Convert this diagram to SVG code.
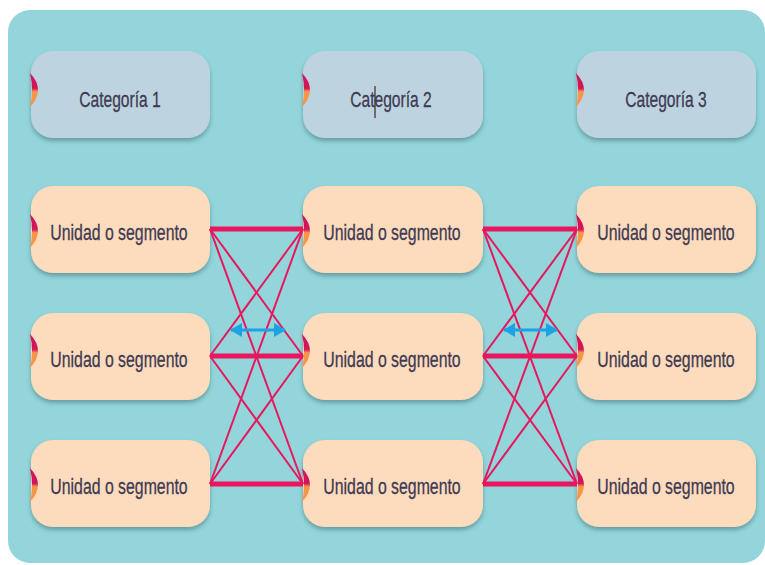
<svg xmlns="http://www.w3.org/2000/svg" width="765" height="565" viewBox="0 0 765 565">
<defs>
<filter id="sh" x="-10%" y="-10%" width="120%" height="130%">
<feDropShadow dx="0" dy="3" stdDeviation="2" flood-color="#2a5a60" flood-opacity="0.45"/>
</filter>
<linearGradient id="cres" x1="0" y1="0" x2="0" y2="1">
<stop offset="0" stop-color="#d3145a"/>
<stop offset="0.45" stop-color="#d3145a"/>
<stop offset="0.55" stop-color="#f7964a"/>
<stop offset="1" stop-color="#f7964a"/>
</linearGradient>
<marker id="ah" viewBox="0 0 12 14" refX="11" refY="7" markerWidth="12" markerHeight="14" orient="auto-start-reverse" markerUnits="userSpaceOnUse">
<path d="M0,0 L12,7 L0,14 z" fill="#1ba3e3"/>
</marker>
<style>
.cat{fill:#bdd4e0;filter:url(#sh)}
.uni{fill:#fddcbd;filter:url(#sh)}
.t{font-family:"Liberation Sans",Arial,sans-serif;font-size:22px;fill:#3f3a52;text-anchor:middle;stroke:#3f3a52;stroke-width:0.3}
.thick{stroke:#e8175d;stroke-width:5;fill:none}
.thin{stroke:#e8175d;stroke-width:2;fill:none}
.blue{stroke:#1ba3e3;stroke-width:3;fill:none;marker-start:url(#ah);marker-end:url(#ah)}
.cr{fill:url(#cres)}
</style>
</defs>
<rect x="8" y="10" width="757" height="553" rx="22" fill="#93d5da"/>

<g id="cat1"><rect class="cat" x="31" y="51" width="179" height="87" rx="22"/><path class="cr" d="M30,73 Q46,90 30,107 Q34,90 30,73 z"/><text class="t" transform="translate(120,107) scale(0.71,1)">Categoría 1</text></g>
<g id="cat2"><rect class="cat" x="303" y="51" width="180" height="87" rx="22"/><path class="cr" d="M302,73 Q318,90 302,107 Q306,90 302,73 z"/><text class="t" transform="translate(391,107) scale(0.71,1)">Categoría 2</text><line x1="375" y1="86" x2="375" y2="118" stroke="#3a2424" stroke-width="1.2"/></g>
<g id="cat3"><rect class="cat" x="577" y="51" width="179" height="87" rx="22"/><path class="cr" d="M576,73 Q592,90 576,107 Q580,90 576,73 z"/><text class="t" transform="translate(666,107) scale(0.71,1)">Categoría 3</text></g>

<g id="u11"><rect class="uni" x="31" y="186" width="179" height="87" rx="22"/><path class="cr" d="M30,214 Q46,231 30,248 Q34,231 30,214 z"/><text class="t" transform="translate(119,240) scale(0.72,1)">Unidad o segmento</text></g>
<g id="u12"><rect class="uni" x="31" y="313" width="179" height="87" rx="22"/><path class="cr" d="M30,334 Q46,351 30,368 Q34,351 30,334 z"/><text class="t" transform="translate(119,367) scale(0.72,1)">Unidad o segmento</text></g>
<g id="u13"><rect class="uni" x="31" y="440" width="179" height="87" rx="22"/><path class="cr" d="M30,468 Q46,485 30,502 Q34,485 30,468 z"/><text class="t" transform="translate(119,494) scale(0.72,1)">Unidad o segmento</text></g>

<g id="u21"><rect class="uni" x="303" y="186" width="180" height="87" rx="22"/><path class="cr" d="M302,214 Q318,231 302,248 Q306,231 302,214 z"/><text class="t" transform="translate(392,240) scale(0.72,1)">Unidad o segmento</text></g>
<g id="u22"><rect class="uni" x="303" y="313" width="180" height="87" rx="22"/><path class="cr" d="M302,334 Q318,351 302,368 Q306,351 302,334 z"/><text class="t" transform="translate(392,367) scale(0.72,1)">Unidad o segmento</text></g>
<g id="u23"><rect class="uni" x="303" y="440" width="180" height="87" rx="22"/><path class="cr" d="M302,468 Q318,485 302,502 Q306,485 302,468 z"/><text class="t" transform="translate(392,494) scale(0.72,1)">Unidad o segmento</text></g>

<g id="u31"><rect class="uni" x="577" y="186" width="179" height="87" rx="22"/><path class="cr" d="M576,214 Q592,231 576,248 Q580,231 576,214 z"/><text class="t" transform="translate(666,240) scale(0.72,1)">Unidad o segmento</text></g>
<g id="u32"><rect class="uni" x="577" y="313" width="179" height="87" rx="22"/><path class="cr" d="M576,334 Q592,351 576,368 Q580,351 576,334 z"/><text class="t" transform="translate(666,367) scale(0.72,1)">Unidad o segmento</text></g>
<g id="u33"><rect class="uni" x="577" y="440" width="179" height="87" rx="22"/><path class="cr" d="M576,468 Q592,485 576,502 Q580,485 576,468 z"/><text class="t" transform="translate(666,494) scale(0.72,1)">Unidad o segmento</text></g>

<g id="connectors">
<line class="thick" x1="210" y1="229" x2="303" y2="229"/>
<line class="thick" x1="210" y1="356" x2="303" y2="356"/>
<line class="thick" x1="210" y1="484" x2="303" y2="484"/>
<line class="thin" x1="210" y1="229" x2="303" y2="356"/>
<line class="thin" x1="210" y1="229" x2="303" y2="484"/>
<line class="thin" x1="210" y1="356" x2="303" y2="229"/>
<line class="thin" x1="210" y1="356" x2="303" y2="484"/>
<line class="thin" x1="210" y1="484" x2="303" y2="229"/>
<line class="thin" x1="210" y1="484" x2="303" y2="356"/>
<line class="thick" x1="483" y1="229" x2="577" y2="229"/>
<line class="thick" x1="483" y1="356" x2="577" y2="356"/>
<line class="thick" x1="483" y1="484" x2="577" y2="484"/>
<line class="thin" x1="483" y1="229" x2="577" y2="356"/>
<line class="thin" x1="483" y1="229" x2="577" y2="484"/>
<line class="thin" x1="483" y1="356" x2="577" y2="229"/>
<line class="thin" x1="483" y1="356" x2="577" y2="484"/>
<line class="thin" x1="483" y1="484" x2="577" y2="229"/>
<line class="thin" x1="483" y1="484" x2="577" y2="356"/>
<line class="blue" x1="231" y1="330" x2="285" y2="330"/>
<line class="blue" x1="504" y1="330" x2="557" y2="330"/>
</g>
</svg>
